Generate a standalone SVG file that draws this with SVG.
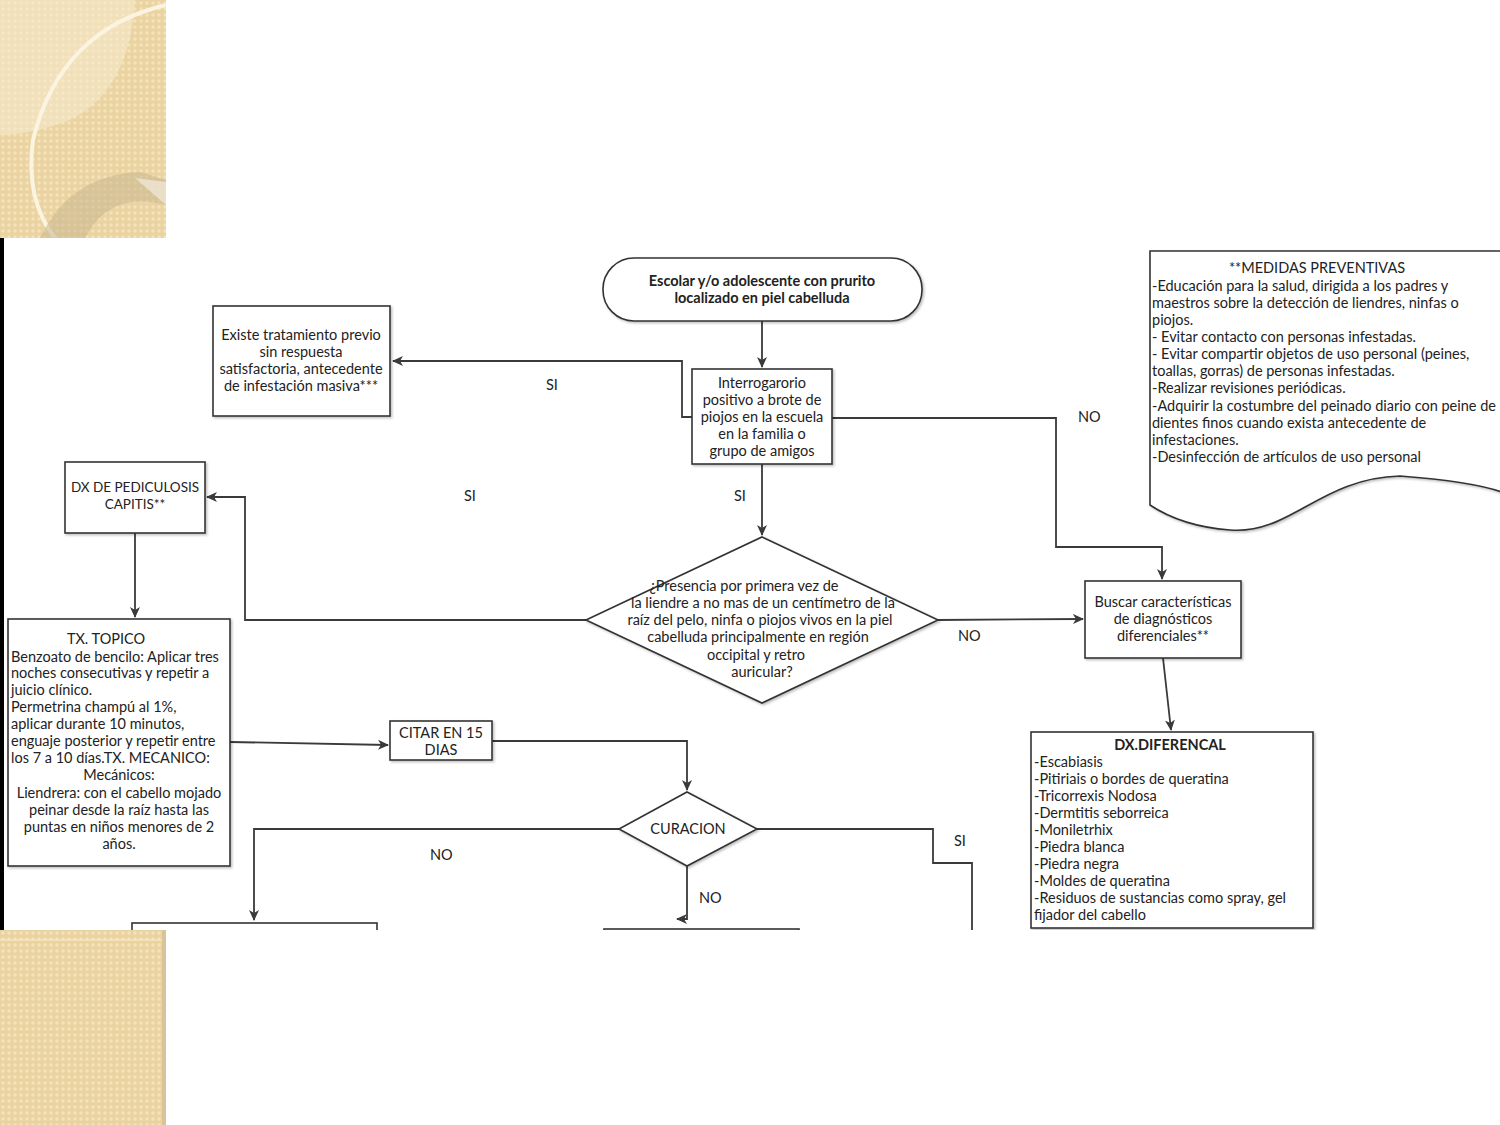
<svg xmlns="http://www.w3.org/2000/svg" width="1500" height="1125" viewBox="0 0 1500 1125">
<defs>
<pattern id="tex" width="6" height="6" patternUnits="userSpaceOnUse">
<rect width="6" height="6" fill="#EAD3A0"/>
<circle cx="3" cy="3" r="1.8" fill="#F3E3BC"/>
</pattern>
<marker id="ah" markerWidth="12" markerHeight="12" refX="10" refY="6" orient="auto" markerUnits="userSpaceOnUse">
<path d="M0,1 L11,6 L0,11 L3,6 Z" fill="#3a3a3a"/>
</marker>
<clipPath id="img"><rect x="0" y="238" width="1500" height="692"/></clipPath>
<filter id="sh" x="-5%" y="-5%" width="115%" height="115%"><feDropShadow dx="1.5" dy="1.5" stdDeviation="1" flood-color="#000" flood-opacity="0.25"/></filter>
</defs>
<style>
.t{font-family:Lato,"Open Sans","Liberation Sans",sans-serif;font-size:14.5px;fill:#222}
.c{text-anchor:middle}
.b{font-weight:bold}
.s{font-size:13.5px}
.box{fill:#fff;stroke:#333;stroke-width:1.6}
.ln{fill:none;stroke:#3a3a3a;stroke-width:1.8}
</style>
<rect width="1500" height="1125" fill="#fff"/>
<!-- decorative slide corners -->
<g id="deco-top">
<rect x="0" y="0" width="166" height="238" fill="url(#tex)"/>
<path d="M40,0 L135,0 Q130,90 70,120 Q30,135 0,135 L0,0 Z" fill="#F7EDD3" opacity="0.5"/>
<path d="M166,5 Q60,30 33,140 Q25,200 55,238" fill="none" stroke="#FBF4E0" stroke-width="4"/>
<path d="M40,238 Q70,175 140,172 L166,180 L166,205 Q110,190 85,238 Z" fill="#C9B690" opacity="0.55"/>
<path d="M135,178 L166,182 L166,205 Z" fill="#EEE6D6" opacity="0.8"/>
</g>
<g id="deco-bottom">
<rect x="0" y="930" width="166" height="195" fill="url(#tex)"/>
<line x1="0" y1="940" x2="166" y2="940" stroke="#F8EBC4" stroke-width="1"/>
<rect x="162" y="930" width="4" height="195" fill="#D8C498"/>
</g>
<rect x="0" y="238" width="4" height="692" fill="#000"/>

<g clip-path="url(#img)">
<g id="connectors">
<path class="ln" d="M762,321 V367" marker-end="url(#ah)"/>
<path class="ln" d="M692,417 H682 V361 H393" marker-end="url(#ah)"/>
<path class="ln" d="M832,418 H1056 V547 H1162 V579" marker-end="url(#ah)"/>
<path class="ln" d="M762,464 V535" marker-end="url(#ah)"/>
<path class="ln" d="M586,620 H245 V497 H207" marker-end="url(#ah)"/>
<path class="ln" d="M135,533 V617" marker-end="url(#ah)"/>
<path class="ln" d="M230,742 L388,745" marker-end="url(#ah)"/>
<path class="ln" d="M492,741 H687 V790" marker-end="url(#ah)"/>
<path class="ln" d="M619,829 H254 V920" marker-end="url(#ah)"/>
<path class="ln" d="M687,866 V919 H677" marker-end="url(#ah)"/>
<path class="ln" d="M757,829 H933 V863 H972 V935"/>
<path class="ln" d="M938,620 L1083,619" marker-end="url(#ah)"/>
<path class="ln" d="M1163,658 L1171,730" marker-end="url(#ah)"/>
<text class="t" x="546" y="390">SI</text>
<text class="t" x="1078" y="422">NO</text>
<text class="t" x="734" y="501">SI</text>
<text class="t" x="464" y="501">SI</text>
<text class="t" x="958" y="641">NO</text>
<text class="t" x="430" y="860">NO</text>
<text class="t" x="699" y="903">NO</text>
<text class="t" x="954" y="846">SI</text>
</g>

<g id="start">
<rect class="box" x="603" y="258" width="319" height="63" rx="31" filter="url(#sh)"/>
<text class="t c b" x="762" y="286">Escolar y/o  adolescente con prurito</text>
<text class="t c b" x="762" y="303">localizado en piel cabelluda</text>
</g>

<g id="interrogatorio">
<rect class="box" x="692" y="369" width="140" height="95" filter="url(#sh)"/>
<text class="t c" x="762" y="388">Interrogarorio</text>
<text class="t c" x="762" y="405">positivo a brote de</text>
<text class="t c" x="762" y="422">piojos en la escuela</text>
<text class="t c" x="762" y="439">en la  familia o</text>
<text class="t c" x="762" y="456">grupo de amigos</text>
</g>

<g id="tratamiento-previo">
<rect class="box" x="213" y="306" width="177" height="110" filter="url(#sh)"/>
<text class="t c" x="301" y="340">Existe tratamiento previo</text>
<text class="t c" x="301" y="357">sin respuesta</text>
<text class="t c" x="301" y="374">satisfactoria, antecedente</text>
<text class="t c" x="301" y="391">de infestación masiva***</text>
</g>

<g id="medidas">
<path class="box" d="M1150,251 H1510 V495 Q1480,482 1400,476 C1320,478 1290,535 1230,530 C1190,527 1165,515 1150,505 Z" filter="url(#sh)"/>
<text class="t c" x="1317" y="273">**MEDIDAS PREVENTIVAS</text>
<text class="t" x="1152" y="291">-Educación para la salud, dirigida a los padres y</text>
<text class="t" x="1152" y="308">maestros sobre la detección de liendres, ninfas o</text>
<text class="t" x="1152" y="325">piojos.</text>
<text class="t" x="1152" y="342">- Evitar  contacto con personas infestadas.</text>
<text class="t" x="1152" y="359">- Evitar compartir  objetos de uso personal (peines,</text>
<text class="t" x="1152" y="376">toallas, gorras) de  personas infestadas.</text>
<text class="t" x="1152" y="393">-Realizar revisiones periódicas.</text>
<text class="t" x="1152" y="411">-Adquirir la costumbre del peinado diario con peine de</text>
<text class="t" x="1152" y="428">dientes finos cuando exista antecedente de</text>
<text class="t" x="1152" y="445">infestaciones.</text>
<text class="t" x="1152" y="462">-Desinfección de artículos de uso personal</text>
</g>

<g id="dx-pediculosis">
<rect class="box" x="65" y="462" width="140" height="71" filter="url(#sh)"/>
<text class="t c s" x="135" y="492">DX DE PEDICULOSIS</text>
<text class="t c s" x="135" y="509">CAPITIS**</text>
</g>

<g id="presencia">
<path class="box" d="M762,537 L938,620 L762,703 L586,620 Z" filter="url(#sh)"/>
<text class="t c" x="744" y="591">¿Presencia por primera vez  de</text>
<text class="t c" x="763" y="608">la  liendre a no mas de un centímetro de la</text>
<text class="t c" x="760" y="625">raíz del pelo, ninfa o piojos vivos en la piel</text>
<text class="t c" x="758" y="642">cabelluda principalmente en región</text>
<text class="t c" x="756" y="660">occipital y retro</text>
<text class="t c" x="762" y="677">auricular?</text>
</g>

<g id="buscar">
<rect class="box" x="1085" y="581" width="156" height="77" filter="url(#sh)"/>
<text class="t c" x="1163" y="607">Buscar características</text>
<text class="t c" x="1163" y="624">de diagnósticos</text>
<text class="t c" x="1163" y="641">diferenciales**</text>
</g>

<g id="tx-topico">
<rect class="box" x="8" y="619" width="222" height="247" filter="url(#sh)"/>
<text class="t c" x="106" y="644">TX. TOPICO</text>
<text class="t" x="11" y="662">Benzoato de bencilo: Aplicar tres</text>
<text class="t" x="11" y="678">noches consecutivas y repetir a</text>
<text class="t" x="11" y="695">juicio clínico.</text>
<text class="t" x="11" y="712">Permetrina champú al 1%,</text>
<text class="t" x="11" y="729">aplicar durante 10 minutos,</text>
<text class="t" x="11" y="746">enguaje posterior y repetir entre</text>
<text class="t" x="11" y="763">los 7 a 10 días.TX. MECANICO:</text>
<text class="t c" x="119" y="780">Mecánicos:</text>
<text class="t c" x="119" y="798">Liendrera: con el cabello mojado</text>
<text class="t c" x="119" y="815">peinar desde la raíz hasta las</text>
<text class="t c" x="119" y="832">puntas en niños menores de 2</text>
<text class="t c" x="119" y="849">años.</text>
</g>

<g id="citar">
<rect class="box" x="390" y="721" width="102" height="39" filter="url(#sh)"/>
<text class="t c" x="441" y="738">CITAR EN 15</text>
<text class="t c" x="441" y="755">DIAS</text>
</g>

<g id="curacion">
<path class="box" d="M687,792 L757,829 L687,866 L619,829 Z" filter="url(#sh)"/>
<text class="t c" x="688" y="834">CURACION</text>
</g>

<g id="dx-diferencial">
<rect class="box" x="1031" y="732" width="282" height="196" filter="url(#sh)"/>
<text class="t c b" x="1170" y="750">DX.DIFERENCAL</text>
<text class="t" x="1034" y="767">-Escabiasis</text>
<text class="t" x="1034" y="784">-Pitiriais o bordes de queratina</text>
<text class="t" x="1034" y="801">-Tricorrexis Nodosa</text>
<text class="t" x="1034" y="818">-Dermtitis seborreica</text>
<text class="t" x="1034" y="835">-Moniletrhix</text>
<text class="t" x="1034" y="852">-Piedra blanca</text>
<text class="t" x="1034" y="869">-Piedra negra</text>
<text class="t" x="1034" y="886">-Moldes de queratina</text>
<text class="t" x="1034" y="903"> -Residuos de sustancias como spray, gel</text>
<text class="t" x="1034" y="920">fijador del cabello</text>
</g>

<g id="bottom-left-box">
<rect class="box" x="132" y="923" width="245" height="40"/>
</g>
<g id="bottom-mid-box">
<rect class="box" x="604" y="929" width="195" height="40"/>
</g>
</g>
</svg>
